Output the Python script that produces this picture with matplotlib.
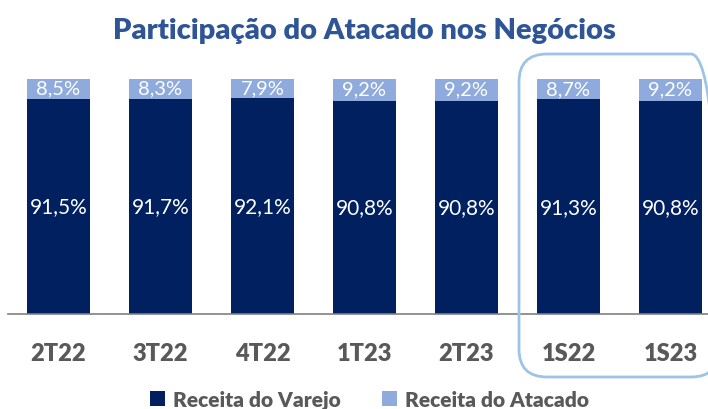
import matplotlib.pyplot as plt
from matplotlib.patches import FancyBboxPatch
from matplotlib.transforms import IdentityTransform

plt.rcParams['font.family'] = ['Lato', 'DejaVu Sans']

periodos = ['2T22', '3T22', '4T22', '1T23', '2T23', '1S22', '1S23']
varejo = [91.5, 91.7, 92.1, 90.8, 90.8, 91.3, 90.8]
atacado = [8.5, 8.3, 7.9, 9.2, 9.2, 8.7, 9.2]

cor_varejo = '#002060'
cor_atacado = '#8FAADC'
cinza = '#595959'

fig = plt.figure(figsize=(7.08, 4.10), dpi=100)
ax = fig.add_axes([8/708, 95/410, 700/708, 235/410])

x = range(len(periodos))
b1 = ax.bar(x, varejo, width=0.62, color=cor_varejo, label='Receita do Varejo')
b2 = ax.bar(x, atacado, width=0.62, bottom=varejo, color=cor_atacado,
            label='Receita do Atacado')

# rótulos dentro das barras
for i in x:
    ax.text(i, varejo[i] / 2, f'{varejo[i]:.1f}%'.replace('.', ','),
            ha='center', va='center', color='white', fontsize=15)
    ax.text(i, varejo[i] + atacado[i] / 2 + 0.3, f'{atacado[i]:.1f}%'.replace('.', ','),
            ha='center', va='center', color='white', fontsize=14.5)

ax.set_xlim(-0.495, -0.495 + 700/102)
ax.set_ylim(0, 100)
ax.set_xticks(list(x))
ax.set_xticklabels(periodos, fontsize=17, fontweight='heavy', color=cinza)
ax.tick_params(axis='x', length=0, pad=20)
ax.set_yticks([])
for s in ['top', 'right', 'left']:
    ax.spines[s].set_visible(False)
ax.spines['bottom'].set_color('#808080')
ax.spines['bottom'].set_linewidth(1.2)

fig.text(0.515, 0.925, 'Participação do Atacado nos Negócios', ha='center',
         va='center', fontsize=21, fontweight='heavy', color='#2F5597')

# destaque dos semestres
caixa = FancyBboxPatch((519, 32), 200, 323,
                       boxstyle='round,pad=0,rounding_size=28',
                       transform=IdentityTransform(), fill=False,
                       edgecolor='#9DC3E6', linewidth=2, clip_on=False)
fig.patches.append(caixa)

leg = fig.legend(handles=[b1, b2], loc='lower center', ncol=2,
                 bbox_to_anchor=(0.522, -0.045), frameon=False,
                 handlelength=0.7, handleheight=0.7, handletextpad=0.4,
                 columnspacing=2.0, prop={'size': 15, 'weight': 'heavy'})
for t in leg.get_texts():
    t.set_color(cinza)

fig.savefig('out.png', dpi=100)
